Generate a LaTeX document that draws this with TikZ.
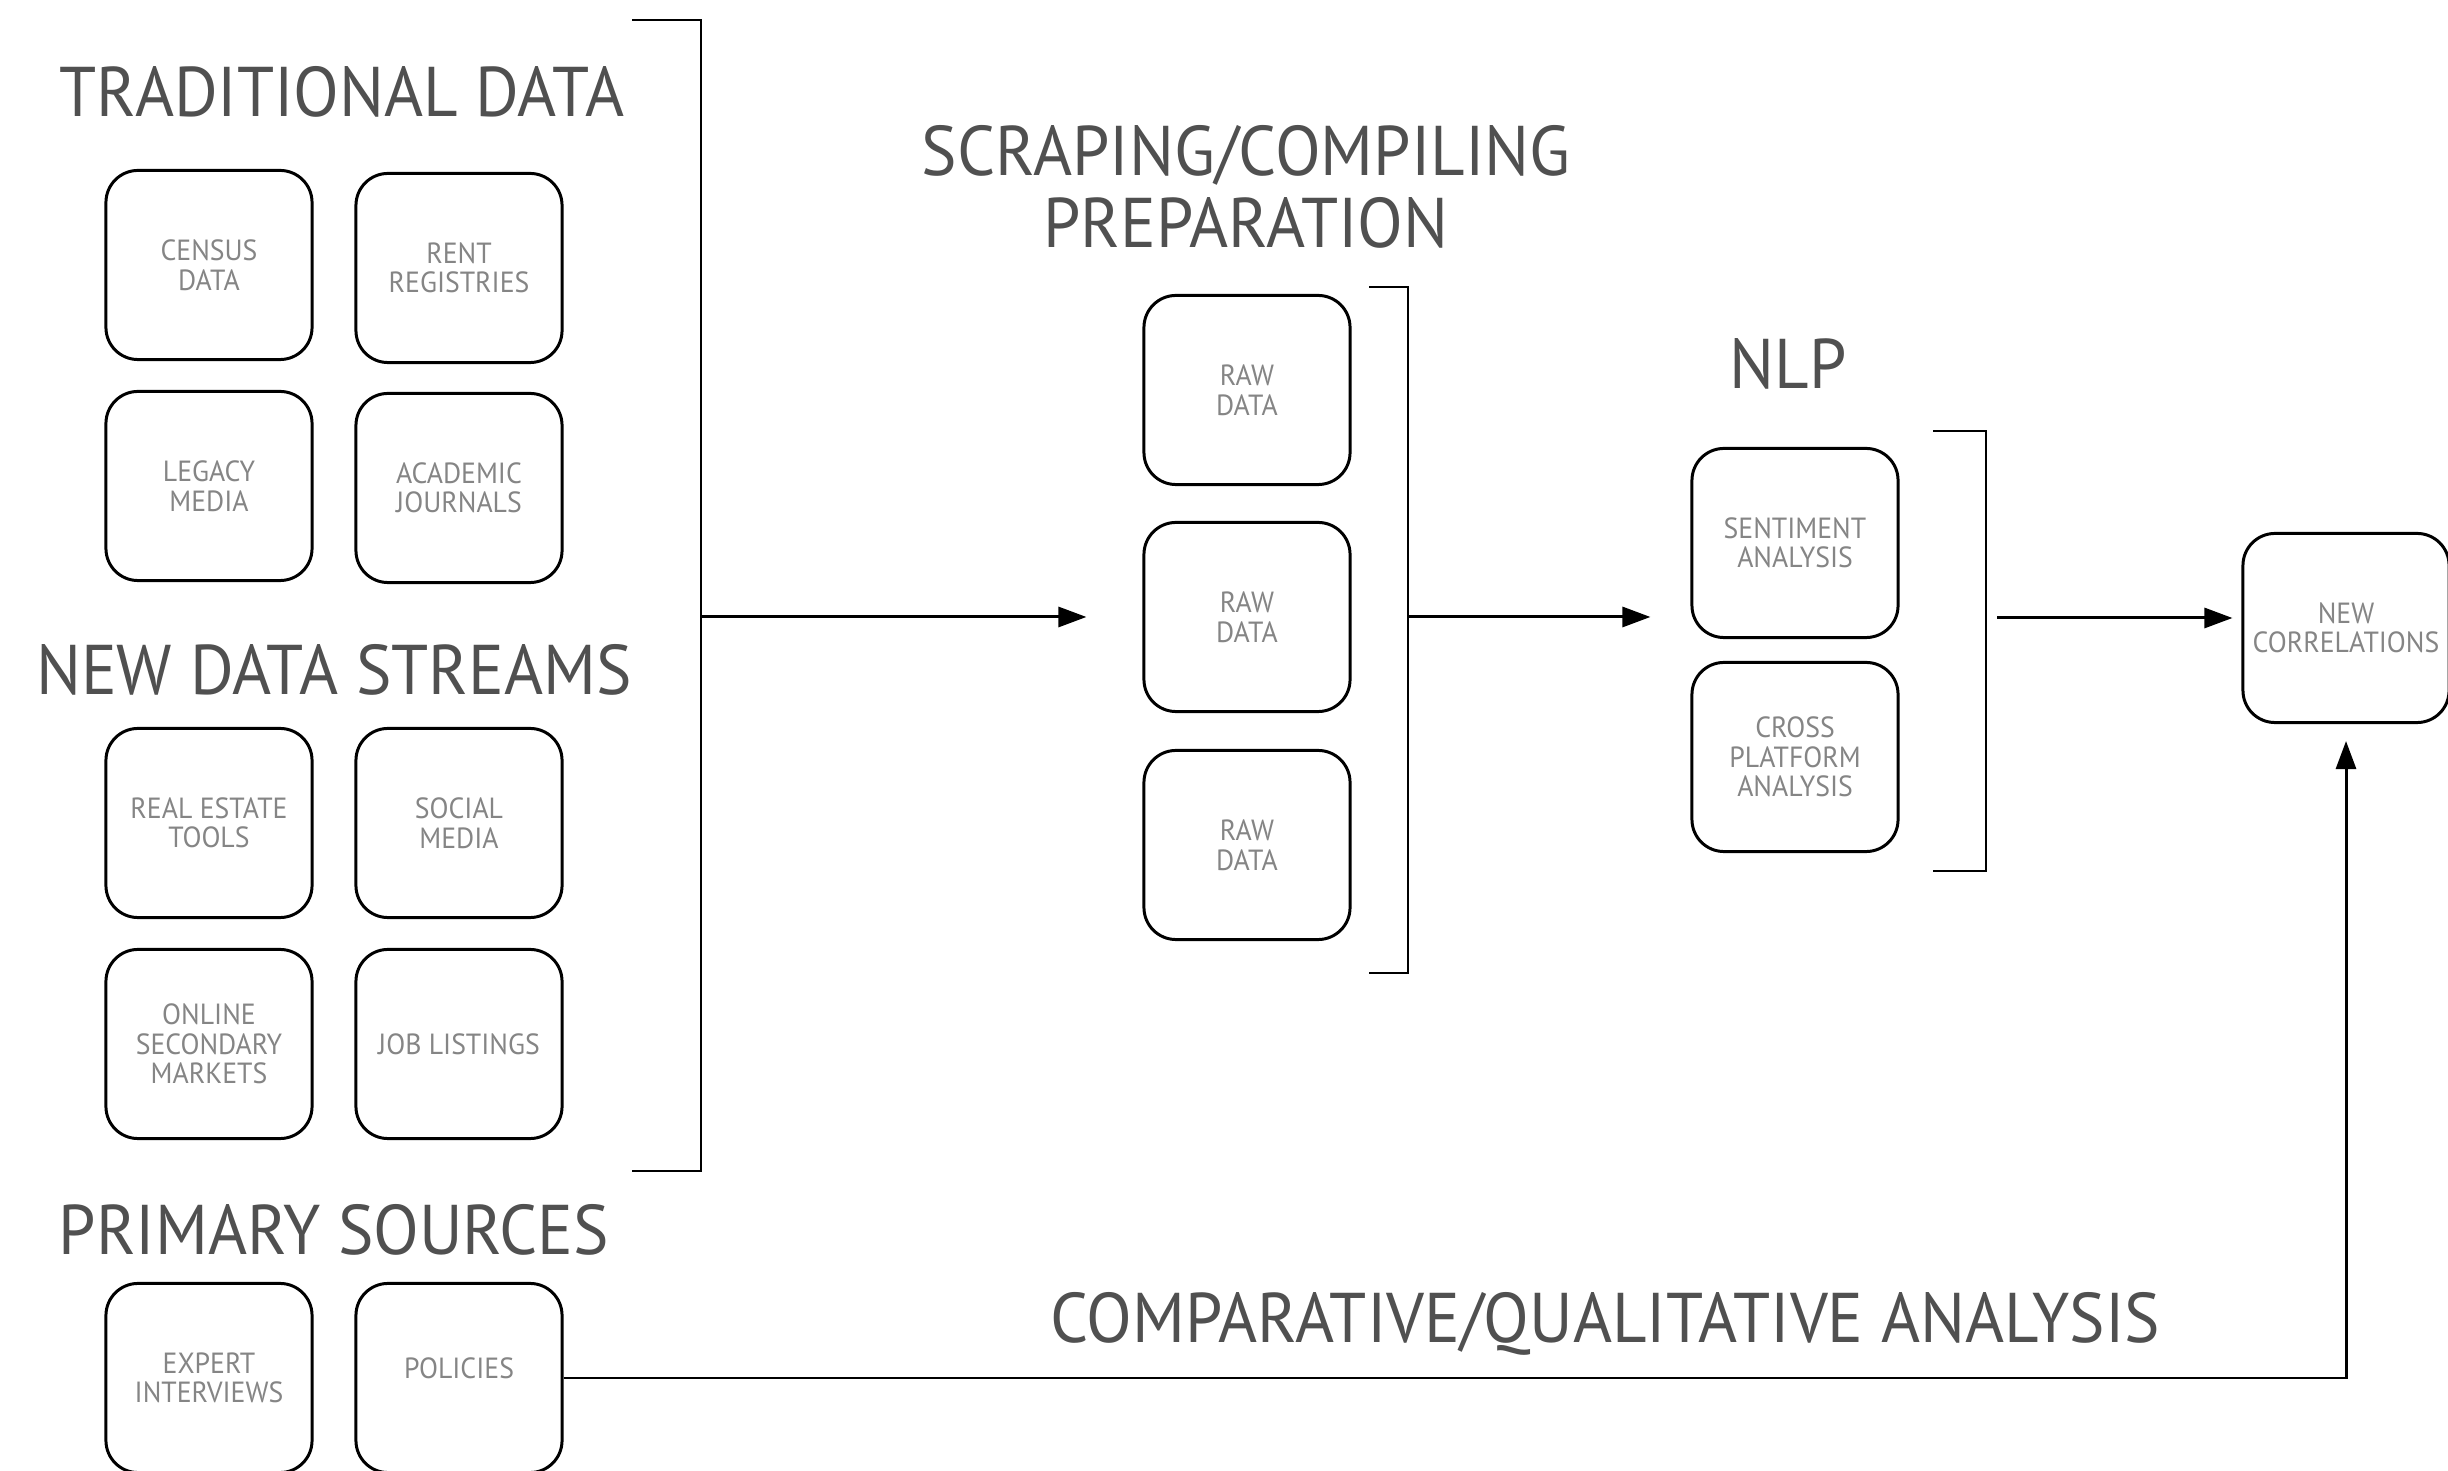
\documentclass[tikz,border=0pt]{standalone}
\usepackage{fontspec}
\setmainfont[FakeStretch=0.95]{PT Sans}
\usetikzlibrary{arrows.meta, calc}
\definecolor{titlegray}{HTML}{505050}
\definecolor{boxgray}{HTML}{858585}

\begin{document}
\begin{tikzpicture}[x=0.01cm, y=-0.01cm,
  source/.style={draw, line width=0.85pt, rounded corners=0.32cm,
    minimum width=2.06cm, minimum height=1.89cm, inner sep=1pt,
    align=center, text=boxgray, font=\fontsize{8.3}{8.4}\selectfont},
  heading/.style={text=titlegray, inner sep=0pt, align=center,
    font=\fontsize{20}{20.6}\selectfont},
  bracket/.style={line width=0.7pt},
  flow/.style={line width=0.85pt, -{Triangle[length=0.28cm, width=0.2cm]}}]
\fill[white] (0,0) rectangle (2448,1471);
\useasboundingbox (0,0) rectangle (2448,1471);
% Headings
\node[heading] (tradtitle) at (342,92) {TRADITIONAL DATA};
\node[heading] (newtitle) at (334,670) {NEW DATA STREAMS};
\node[heading] (primtitle) at (334,1230) {PRIMARY SOURCES};
\node[heading] (scraptitle) at (1246,187) {SCRAPING/COMPILING\\PREPARATION};
\node[heading] (nlptitle) at (1788,364) {NLP};
\node[heading] (comptitle) at (1605,1324) {COMPARATIVE/QUALITATIVE ANALYSIS};
% Traditional data
\node[source] (census) at (209,265) {CENSUS\\DATA};
\node[source] (rent) at (459,268) {RENT\\REGISTRIES};
\node[source] (legacy) at (209,486) {LEGACY\\MEDIA};
\node[source] (academic) at (459,488) {ACADEMIC\\JOURNALS};
% New data streams
\node[source] (realestate) at (209,823) {REAL ESTATE\\TOOLS};
\node[source] (social) at (459,823) {SOCIAL\\MEDIA};
\node[source] (online) at (209,1044) {ONLINE\\SECONDARY\\MARKETS};
\node[source] (jobs) at (459,1044) {JOB LISTINGS};
% Primary sources
\node[source] (expert) at (209,1378) {EXPERT\\INTERVIEWS};
\node[source, text depth=5.4pt] (policies) at (459,1378) {POLICIES};
% Scraping / compiling
\node[source] (raw1) at (1247,390) {RAW\\DATA};
\node[source] (raw2) at (1247,617) {RAW\\DATA};
\node[source] (raw3) at (1247,845) {RAW\\DATA};
% NLP
\node[source] (sentiment) at (1795,543) {SENTIMENT\\ANALYSIS};
\node[source] (crossplat) at (1795,757) {CROSS\\PLATFORM\\ANALYSIS};
% Result
\node[source] (newcorr) at (2346,628) {NEW\\CORRELATIONS};
% Brackets round each group
\coordinate (b1top) at (701,20);
\coordinate (b1bot) at (701,1171);
\coordinate (b1mid) at (701,617);
\draw[bracket] (632,20) -- (b1top) -- (b1bot) -- (632,1171);
\coordinate (b2top) at (1408,287);
\coordinate (b2bot) at (1408,973);
\coordinate (b2mid) at (1408,617);
\draw[bracket] (1369,287) -- (b2top) -- (b2bot) -- (1369,973);
\coordinate (b3top) at (1986,431);
\coordinate (b3bot) at (1986,871);
\coordinate (b3mid) at (1986,618);
\draw[bracket] (1933,431) -- (b3top) -- (b3bot) -- (1933,871);
% Flow from stage to stage
\draw[flow, shorten >=0.56cm] (b1mid) -- (raw2.west |- b1mid);
\draw[flow, shorten >=0.40cm] (b2mid) -- (sentiment.west |- b2mid);
\draw[flow, shorten <=0.11cm, shorten >=0.09cm] (b3mid) -- (newcorr.west |- b3mid);
\draw[flow, shorten >=0.17cm] (policies.east) -| (newcorr.south);
\end{tikzpicture}
\end{document}
